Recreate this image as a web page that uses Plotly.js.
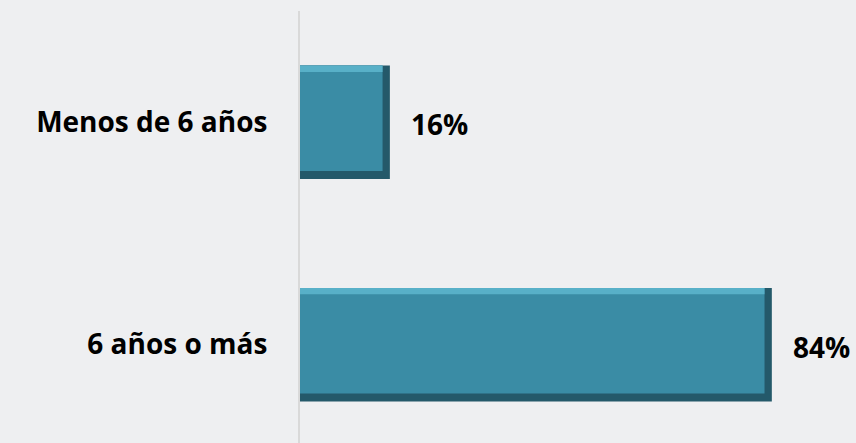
<!DOCTYPE html>
<html>
<head>
<meta charset="utf-8">
<script src="https://cdn.plot.ly/plotly-3.0.1.min.js"></script>
<style>html,body{margin:0;padding:0;background:#EEEFF1;}#chart{width:856px;height:443px;}</style>
</head>
<body>
<div id="chart"></div>
<script>
const categories = ["Menos de 6 años", "6 años o más"];
const values = [16, 84];
const valueLabels = ["16%", "84%"];

const font = "'Open Sans', sans-serif";

// bevel styling (category units / x units)
const barW = 0.51, edge = 0.036, rightEdge = 1.3;
const inner = values.map(v => v - rightEdge);

const traces = [
  {type: "bar", orientation: "h", y: categories, x: values, width: barW,
   marker: {color: "#24596A", line: {width: 0}}, hoverinfo: "none"},
  {type: "bar", orientation: "h", y: categories, x: inner, width: barW - edge, offset: -barW / 2,
   marker: {color: "#3A8CA5", line: {width: 0}}, hoverinfo: "none"},
  {type: "bar", orientation: "h", y: categories, x: inner, width: edge * 0.8, offset: -barW / 2,
   marker: {color: "#58B0C8", line: {width: 0}}, hoverinfo: "none"}
];

const annotations = categories.map((c, i) => ({
  x: values[i], y: c, xref: "x", yref: "y",
  text: "<b>" + valueLabels[i] + "</b>",
  showarrow: false, xanchor: "left", xshift: 19, yshift: -2,
  font: {family: font, size: 28, color: "#000"}
}));

const layout = {
  width: 856, height: 443,
  margin: {l: 300, r: 28, t: 11, b: 0},
  paper_bgcolor: "#EEEFF1",
  plot_bgcolor: "#EEEFF1",
  showlegend: false,
  barmode: "overlay",
  xaxis: {range: [0, 94], visible: false, showgrid: false, zeroline: false},
  yaxis: {
    type: "category",
    range: [1.442, -0.5],
    showline: true, linecolor: "#D9D9D9", linewidth: 2,
    showgrid: false, zeroline: false, ticks: "",
    ticklabelstandoff: 25,
    tickfont: {family: font, size: 28, color: "#000", weight: "bold"}
  },
  annotations: annotations
};

Plotly.newPlot("chart", traces, layout, {displayModeBar: false, staticPlot: true});
</script>
</body>
</html>
